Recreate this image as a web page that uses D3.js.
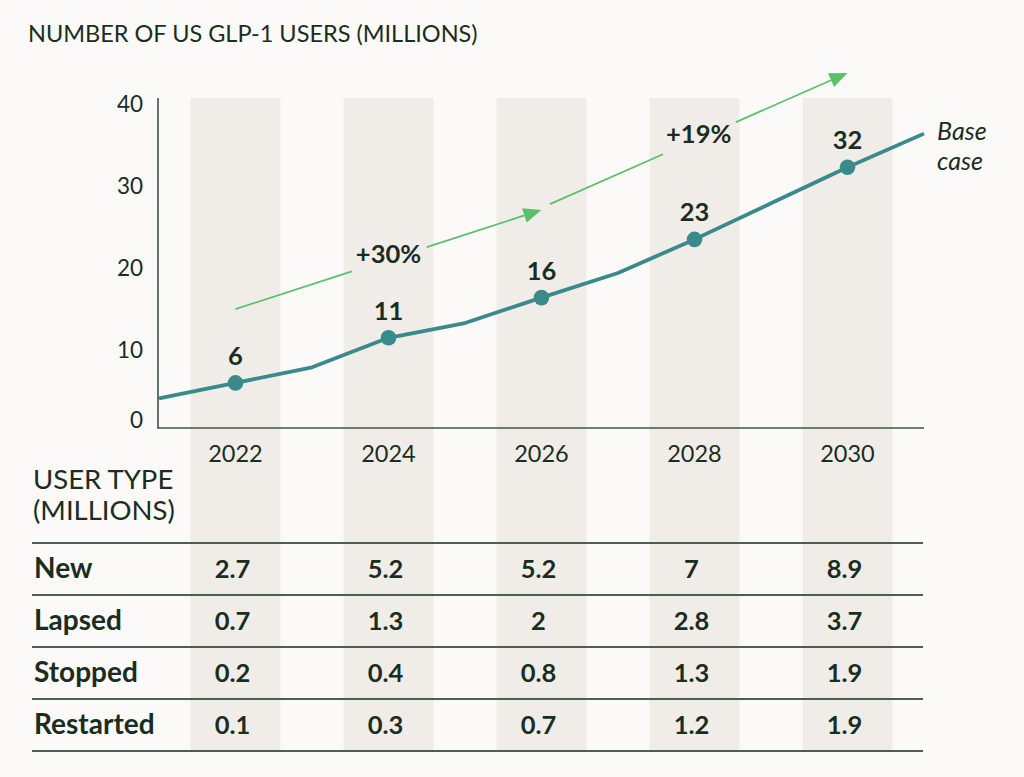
<!DOCTYPE html>
<html><head><meta charset="utf-8">
<script src="https://cdn.jsdelivr.net/npm/d3@7"></script>
<style>
html,body{margin:0;padding:0;background:#fbfaf8;}
svg{display:block;}
text{font-family:Lato,"Open Sans","Noto Sans",sans-serif;fill:#1a2d1f;}
</style></head>
<body>
<svg id="chart" width="1024" height="777"></svg>
<script>
// ---- data ----
const title = "NUMBER OF US GLP-1 USERS (MILLIONS)";
const lineYears = [2021, 2022, 2023, 2024, 2025, 2026, 2027, 2028, 2029, 2030, 2031];
const lineValues = [3.6, 5.5, 7.4, 11.0, 12.8, 15.9, 18.9, 23.0, 27.4, 31.8, 35.9];
const labelYears = [2022, 2024, 2026, 2028, 2030];
const labelValues = ["6", "11", "16", "23", "32"];
const yTicks = [0, 10, 20, 30, 40];
const seriesName = ["Base", "case"];
const growthLabels = ["+30%", "+19%"];
const growthFrom = [[2022, 14.5], [2026.11, 27.3]];
const growthTo = [[2026, 26.6], [2030, 43.3]];
const tableTitle = ["USER TYPE", "(MILLIONS)"];
const rowNames = ["New", "Lapsed", "Stopped", "Restarted"];
const newUsers = ["2.7", "5.2", "5.2", "7", "8.9"];
const lapsedUsers = ["0.7", "1.3", "2", "2.8", "3.7"];
const stoppedUsers = ["0.2", "0.4", "0.8", "1.3", "1.9"];
const restartedUsers = ["0.1", "0.3", "0.7", "1.2", "1.9"];
const tableRows = [newUsers, lapsedUsers, stoppedUsers, restartedUsers];

// ---- layout ----
const svg = d3.select("#chart");
const C = {text:"#1a2d1f", axis:"#3f5443", stripe:"#f0ede8", teal:"#3a8a8b", green:"#5cbf6b", rule:"#4c5f50"};
const x = d3.scaleLinear().domain([2021, 2031]).range([159, 924]);
const y = d3.scaleLinear().domain([0, 40]).range([428, 100]);
const stripeW = 90;

// stripes
svg.append("g").selectAll("rect").data(labelYears).join("rect")
  .attr("x", d => x(d) - stripeW/2).attr("y", 98)
  .attr("width", stripeW).attr("height", 652)
  .attr("fill", C.stripe);

// title
svg.append("text").attr("x", 28).attr("y", 42)
  .style("font-size", "23.5px").text(title);

// axes
svg.append("line").attr("x1", x(2021)-1).attr("x2", x(2021)-1).attr("y1", 98).attr("y2", y(0))
  .attr("stroke", C.axis).attr("stroke-width", 1.6);
svg.append("line").attr("x1", x(2021)-1.8).attr("x2", x(2031)).attr("y1", y(0)).attr("y2", y(0))
  .attr("stroke", C.axis).attr("stroke-width", 1.6);

svg.append("g").selectAll("text").data(yTicks).join("text")
  .attr("x", 143).attr("y", d => d === 0 ? y(d) : y(d) + 12)
  .attr("text-anchor", "end").style("font-size", "22.5px").text(d => d);

// year labels
svg.append("g").selectAll("text").data(labelYears).join("text")
  .attr("x", d => x(d)).attr("y", 462)
  .attr("text-anchor", "middle").style("font-size", "23.5px").text(d => d);

// growth arrows
function arrow(i){
  const p0 = [x(growthFrom[i][0]), y(growthFrom[i][1])];
  const p1 = [x(growthTo[i][0]), y(growthTo[i][1])];
  const ang = Math.atan2(p1[1]-p0[1], p1[0]-p0[0]);
  const headL = 18, headW = 7.5;
  const base = [p1[0] - headL*Math.cos(ang), p1[1] - headL*Math.sin(ang)];
  const lerp = t => [p0[0] + (p1[0]-p0[0])*t, p0[1] + (p1[1]-p0[1])*t];
  const g = svg.append("g");
  const gapA = lerp(0.38), gapB = lerp(0.625);
  g.append("line").attr("x1", p0[0]).attr("y1", p0[1]).attr("x2", gapA[0]).attr("y2", gapA[1])
    .attr("stroke", C.green).attr("stroke-width", 1.7);
  g.append("line").attr("x1", gapB[0]).attr("y1", gapB[1]).attr("x2", base[0]).attr("y2", base[1])
    .attr("stroke", C.green).attr("stroke-width", 1.7);
  const nx = -Math.sin(ang), ny = Math.cos(ang);
  g.append("path").attr("d", `M${p1[0]},${p1[1]}L${base[0]+nx*headW},${base[1]+ny*headW}L${base[0]-nx*headW},${base[1]-ny*headW}Z`)
    .attr("fill", C.green);
  const mid = lerp(0.5);
  g.append("text").attr("x", mid[0]).attr("y", mid[1] + 4)
    .attr("text-anchor", "middle").style("font-size", "25.5px").style("font-weight", 700)
    .text(growthLabels[i]);
}
arrow(0); arrow(1);

// base line
const pts = lineYears.map((yr, i) => [yr, lineValues[i]]);
svg.append("path").datum(pts)
  .attr("d", d3.line().x(d => x(d[0])).y(d => y(d[1])))
  .attr("fill", "none").attr("stroke", C.teal).attr("stroke-width", 3.8)
  .attr("stroke-linejoin", "round");

const dots = labelYears.map((yr, i) => ({yr, v: lineValues[lineYears.indexOf(yr)], lab: labelValues[i]}));
svg.append("g").selectAll("circle").data(dots).join("circle")
  .attr("cx", d => x(d.yr)).attr("cy", d => y(d.v)).attr("r", 7.8).attr("fill", C.teal);
svg.append("g").selectAll("text").data(dots).join("text")
  .attr("x", d => x(d.yr)).attr("y", d => y(d.v) - 18)
  .attr("text-anchor", "middle").style("font-size", "25.5px").style("font-weight", 700)
  .text(d => d.lab);

// series name
svg.append("text").attr("x", 937).attr("y", 140).style("font-size", "25px").style("font-style", "italic")
  .selectAll("tspan").data(seriesName).join("tspan")
  .attr("x", 937).attr("dy", (d, i) => i === 0 ? 0 : 30).text(d => d);

// table
svg.append("text").style("font-size", "27.5px")
  .selectAll("tspan").data(tableTitle).join("tspan")
  .attr("x", 33).attr("y", (d, i) => 489 + i*31).text(d => d);

const rowTop = d3.scaleLinear().domain([0, 4]).range([543, 751]);
svg.append("g").selectAll("line").data(d3.range(5)).join("line")
  .attr("x1", 32).attr("x2", 923).attr("y1", d => rowTop(d)).attr("y2", d => rowTop(d))
  .attr("stroke", C.rule).attr("stroke-width", 2);

const rows = svg.append("g").selectAll("g").data(tableRows).join("g");
rows.append("text").attr("x", 34).attr("y", (d, i) => rowTop(i) + 35)
  .style("font-size", "28px").style("font-weight", 700).text((d, i) => rowNames[i]);
rows.each(function(vals, i){
  d3.select(this).selectAll("text.v").data(vals).join("text").attr("class", "v")
    .attr("x", (d, j) => x(labelYears[j]) - 3).attr("y", rowTop(i) + 35)
    .attr("text-anchor", "middle").style("font-size", "25.5px").style("font-weight", 700)
    .text(d => d);
});
</script>
</body></html>
